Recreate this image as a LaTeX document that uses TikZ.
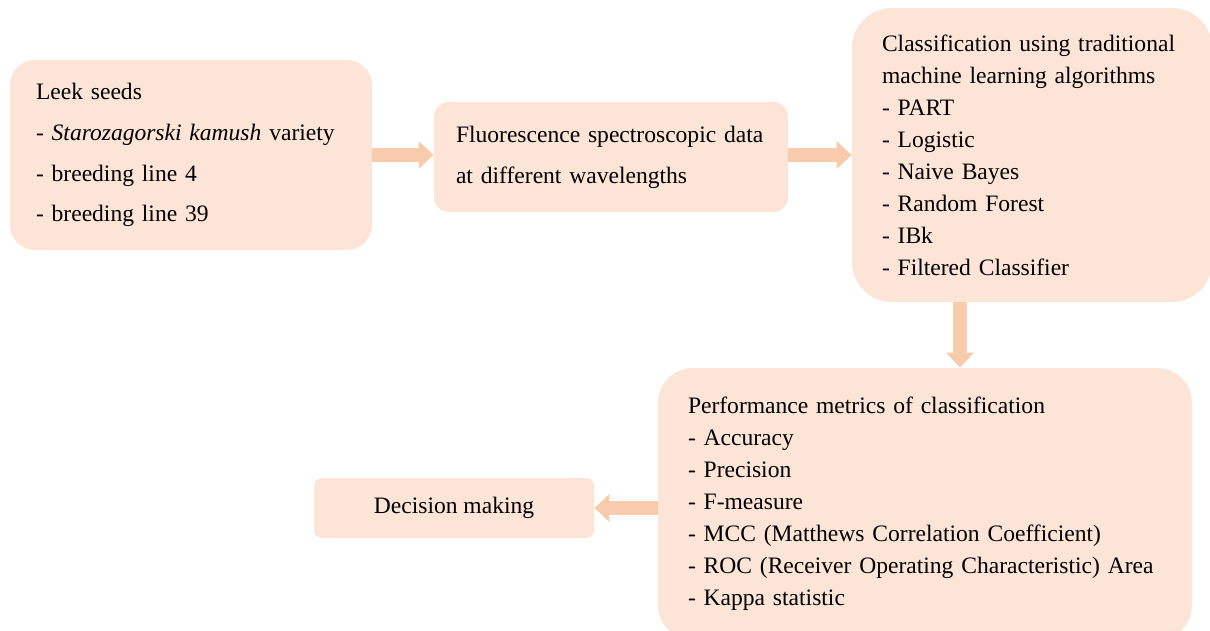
\documentclass[tikz,border=0pt]{standalone}
\usepackage{fontspec}
\setmainfont{Liberation Serif}
\usetikzlibrary{arrows.meta, positioning}
\definecolor{boxcolor}{HTML}{FCE4D6}
\definecolor{arrowcolor}{HTML}{F8CBAD}

\begin{document}
\begin{tikzpicture}[
    stage/.style={fill=boxcolor, align=left, font=\fontsize{13.4}{18.2}\selectfont},
    wide/.style={font=\fontsize{13.4}{23.2}\selectfont},
    flow/.style={draw=arrowcolor, line width=0.28cm, -{Triangle[width=0.54cm, length=0.3cm]}}
]
\useasboundingbox (0,0) rectangle (24.2,12.6);

% Stages of the workflow
\node[stage, wide, rounded corners=0.5cm, minimum height=3.8cm, text width=6.2cm, inner xsep=0.52cm] (seeds) at (3.82,9.5)
    {Leek seeds\\- \textit{Starozagorski kamush} variety\\- breeding line 4\\- breeding line 39};
\node[stage, wide, rounded corners=0.3cm, minimum height=2.2cm, text width=6.2cm, inner xsep=0.44cm] (data) at (12.22,9.46)
    {Fluorescence spectroscopic data\\at different wavelengths};
\node[stage, rounded corners=0.8cm, minimum height=5.88cm, text width=6.0cm, inner xsep=0.6cm] (algos) at (20.64,9.5)
    {Classification using traditional\\machine learning algorithms\\- PART\\- Logistic\\- Naive Bayes\\- Random Forest\\- IBk\\- Filtered Classifier};
\node[stage, rounded corners=0.7cm, minimum height=5.44cm, text width=9.48cm, inner xsep=0.6cm] (metrics) at (18.5,2.52)
    {Performance metrics of classification\\- Accuracy\\- Precision\\- F-measure\\- MCC (Matthews Correlation Coefficient)\\- ROC (Receiver Operating Characteristic) Area\\- Kappa statistic};
\node[stage, align=center, rounded corners=0.16cm, minimum width=5.6cm, minimum height=1.2cm] (decision) at (9.08,2.44)
    {Decision making};

% Flow
\coordinate (drop) at ([xshift=0.7cm]metrics.north);
\draw[flow] (seeds.east) -- (seeds.east -| data.west);
\draw[flow] (algos.west -| data.east) -- (algos.west);
\draw[flow] (drop |- algos.south) -- (drop);
\draw[flow] (metrics.west |- decision.east) -- (decision.east);

\end{tikzpicture}
\end{document}
